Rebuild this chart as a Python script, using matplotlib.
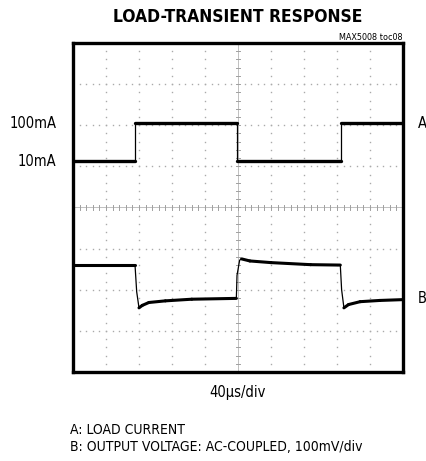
import numpy as np
import matplotlib
matplotlib.use("Agg")
import matplotlib.pyplot as plt

# Scope traces, in divisions (x: 0..10, y: 0..8 from bottom)
trace_a_t = [0.0, 1.88, 1.88, 4.97, 4.97, 8.12, 8.12, 10.0]
trace_a_v = [5.12, 5.12, 6.05, 6.05, 5.12, 5.12, 6.05, 6.05]

trace_b_t = [0.0, 1.88, 1.93, 2.0, 2.1, 2.3, 2.8, 3.6, 4.95,
             4.97, 5.05, 5.11, 5.36, 6.0, 7.2, 8.1,
             8.14, 8.21, 8.35, 8.7, 9.3, 10.0]
trace_b_v = [2.59, 2.59, 1.95, 1.56, 1.62, 1.69, 1.73, 1.77, 1.79,
             2.35, 2.72, 2.75, 2.70, 2.66, 2.61, 2.60,
             2.0, 1.56, 1.64, 1.71, 1.74, 1.76]

level_labels = ["100mA", "10mA"]
level_values = [6.05, 5.12]
channel_labels = ["A", "B"]
channel_values = [6.05, 1.78]

plt.rcParams["font.family"] = ["DejaVu Sans"]
plt.rcParams["font.stretch"] = "condensed"


def draw_trace(ax, t, v, lw):
    # thin line for the fast edges, thick band on the slow parts
    ax.plot(t, v, color="black", lw=0.9)
    for i in range(len(t) - 1):
        if t[i + 1] - t[i] > 0.095:
            ax.plot(t[i:i + 2], v[i:i + 2], color="black", lw=lw,
                    solid_capstyle="round")


fig = plt.figure(figsize=(4.27, 4.61), dpi=100)
ax = fig.add_axes([73 / 427, 1 - 372 / 461, 330 / 427, 329 / 461])
ax.set_xlim(0, 10)
ax.set_ylim(0, 8)
ax.set_xticks([])
ax.set_yticks([])
for sp in ax.spines.values():
    sp.set_linewidth(2.4)
    sp.set_color("black")
    sp.set_zorder(5)

# dotted graticule
grid_col = "#aaaaaa"
fine_x = np.arange(0, 10.001, 0.2)
fine_y = np.arange(0, 8.001, 0.2)
for gy in range(1, 8):
    if gy == 4:
        continue
    ax.plot(fine_x, np.full_like(fine_x, gy), ls="none", marker="s",
            ms=1.0, color=grid_col, mew=0)
for gx in range(1, 10):
    if gx == 5:
        continue
    ax.plot(np.full_like(fine_y, gx), fine_y, ls="none", marker="s",
            ms=1.0, color=grid_col, mew=0)

# center crosshair with minor ticks
ax.axhline(4, color="#c0c0c0", lw=0.7)
ax.axvline(5, color="#c0c0c0", lw=0.7)
for tx in fine_x:
    ax.plot([tx, tx], [3.94, 4.06], color="#a0a0a0", lw=0.7)
for ty in fine_y:
    ax.plot([4.93, 5.07], [ty, ty], color="#a0a0a0", lw=0.7)

# traces
draw_trace(ax, trace_a_t, trace_a_v, 2.4)
draw_trace(ax, trace_b_t, trace_b_v, 2.2)

# labels
for lab, v in zip(level_labels, level_values):
    ax.text(-0.5, v, lab, ha="right", va="center", fontsize=10.5,
            clip_on=False)
for lab, v in zip(channel_labels, channel_values):
    ax.text(10.45, v, lab, ha="left", va="center", fontsize=10.5,
            clip_on=False)

fig.text(238 / 427, 1 - 17 / 461, "LOAD-TRANSIENT RESPONSE", ha="center",
         va="center", fontsize=12.5, fontweight="bold")
fig.text(403 / 427, 1 - 37 / 461, "MAX5008 toc08", ha="right",
         va="center", fontsize=6.5)
fig.text(238 / 427, 1 - 393 / 461, "40μs/div", ha="center", va="center",
         fontsize=10.5)
fig.text(70 / 427, 1 - 430 / 461, "A: LOAD CURRENT", ha="left",
         va="center", fontsize=10)
fig.text(70 / 427, 1 - 447 / 461, "B: OUTPUT VOLTAGE: AC-COUPLED, 100mV/div",
         ha="left", va="center", fontsize=10)

fig.savefig("out.png", dpi=100)
